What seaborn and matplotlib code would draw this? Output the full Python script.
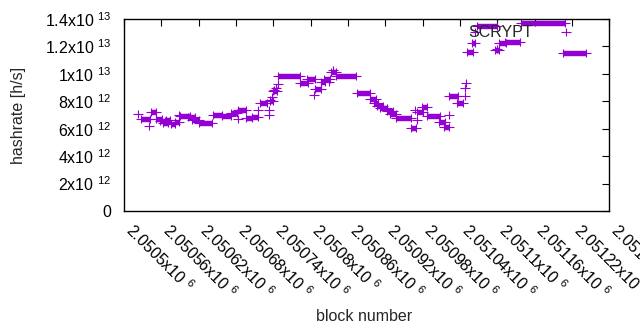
import matplotlib
matplotlib.use('Agg')
import matplotlib.pyplot as plt
from matplotlib.path import Path
from matplotlib.ticker import FixedLocator, FuncFormatter
import numpy as np
import pandas as pd
import seaborn as sns

# runs of blocks sharing the same hashrate (start block, end block, h/s)
run_start = [2050527, 2050543, 2050551, 2050558, 2050562, 2050567, 2050575, 2050582,
             2050590, 2050602, 2050609, 2050620, 2050643, 2050657, 2050672, 2050683,
             2050696, 2050706, 2050718, 2050734, 2050739, 2050747, 2050782, 2050794,
             2050807, 2050816, 2050821, 2050832, 2050840, 2050874, 2050895, 2050901,
             2050906, 2050911, 2050922, 2050927, 2050937, 2050961, 2050970, 2050979,
             2050987, 2051006, 2051014, 2051022, 2051035, 2051051, 2051059, 2051067,
             2051096, 2051103, 2051112, 2051138, 2051206]
run_end = [2050541, 2050551, 2050561, 2050566, 2050570, 2050574, 2050582, 2050588,
           2050606, 2050614, 2050620, 2050641, 2050657, 2050672, 2050681, 2050696,
           2050706, 2050715, 2050730, 2050739, 2050745, 2050782, 2050796, 2050807,
           2050816, 2050823, 2050831, 2050840, 2050872, 2050895, 2050905, 2050908,
           2050916, 2050922, 2050932, 2050937, 2050961, 2050969, 2050980, 2050987,
           2051008, 2051015, 2051022, 2051036, 2051045, 2051061, 2051064, 2051099,
           2051103, 2051114, 2051137, 2051208, 2051242]
run_rate = [6.69e12, 7.24e12, 6.72e12, 6.56e12, 6.42e12, 6.66e12, 6.31e12, 6.50e12,
            6.95e12, 6.82e12, 6.61e12, 6.39e12, 7.02e12, 6.93e12, 7.18e12, 7.40e12,
            6.76e12, 6.88e12, 7.85e12, 8.02e12, 8.75e12, 9.82e12, 9.31e12, 9.60e12,
            8.87e12, 9.43e12, 9.60e12, 10.16e12, 9.84e12, 8.58e12, 8.14e12, 7.85e12,
            7.66e12, 7.49e12, 7.29e12, 7.07e12, 6.76e12, 6.03e12, 7.24e12, 7.56e12,
            6.96e12, 6.51e12, 6.15e12, 8.36e12, 7.85e12, 11.62e12, 12.23e12, 13.47e12,
            11.76e12, 12.23e12, 12.35e12, 13.69e12, 11.50e12]

# single blocks
pt_block = [2050523, 2050540, 2050588, 2050683, 2050715, 2050732, 2050733, 2050734,
            2050737, 2050741, 2050744, 2050748, 2050805, 2050829, 2050836, 2050967,
            2050970, 2051022, 2051048, 2051048, 2051049, 2051064, 2051099]
pt_rate = [7.07e12, 6.20e12, 7.00e12, 6.69e12, 7.36e12, 7.36e12, 7.00e12, 8.10e12,
           8.30e12, 8.80e12, 9.00e12, 9.26e12, 8.46e12, 9.43e12, 10.28e12, 7.36e12,
           6.64e12, 7.00e12, 8.39e12, 8.95e12, 9.31e12, 13.07e12, 11.79e12]

x_ticks = [2050500, 2050560, 2050620, 2050680, 2050740, 2050800, 2050860,
           2050920, 2050980, 2051040, 2051100, 2051160, 2051220, 2051280]
y_ticks = [0, 2e12, 4e12, 6e12, 8e12, 1e13, 1.2e13, 1.4e13]

color = '#9400d3'

sns.set_style('white')
plt.rcParams['font.family'] = ['Liberation Sans', 'DejaVu Sans']
plt.rcParams['mathtext.fontset'] = 'custom'
plt.rcParams['mathtext.rm'] = 'Liberation Sans'
plt.rcParams['mathtext.it'] = 'Liberation Sans'
plt.rcParams['mathtext.default'] = 'regular'
plt.rcParams['font.size'] = 11.5


def sci(v, pos=None):
    if v == 0:
        return '0'
    e = int(np.floor(np.log10(abs(v)) + 1e-9))
    m = v / 10 ** e
    return f'{m:g}x10 $^{{{e}}}$'


marks = pd.DataFrame({
    'block': pt_block + run_start + run_end,
    'rate': pt_rate + run_rate + run_rate,
})

plus = Path([(-1, 0), (1, 0), (0, -0.78), (0, 0.78)],
            [Path.MOVETO, Path.LINETO, Path.MOVETO, Path.LINETO])

fig = plt.figure(figsize=(6.4, 3.3), dpi=100)
ax = fig.add_axes([0.194, 0.3606, 0.7583, 0.5818])

ax.hlines(run_rate, run_start, run_end, color=color, linewidth=3.9)
sns.scatterplot(data=marks, x='block', y='rate', marker=plus, s=42,
                color=color, edgecolor=color, linewidth=0.8, label='SCRYPT', ax=ax)

ax.set_xlim(2050500, 2051280)
ax.set_ylim(0, 1.4e13)
ax.xaxis.set_major_locator(FixedLocator(x_ticks))
ax.yaxis.set_major_locator(FixedLocator(y_ticks))
ax.xaxis.set_major_formatter(FuncFormatter(sci))
ax.yaxis.set_major_formatter(FuncFormatter(sci))
ax.tick_params(direction='in', length=5, width=0.8, top=True, right=True, colors='black')
ax.tick_params(axis='y', pad=9)
ax.tick_params(axis='x', pad=14.5)
for lab in ax.get_xticklabels():
    lab.set_rotation(-45)
    lab.set_ha('left')
    lab.set_va('baseline')
    lab.set_rotation_mode('anchor')
for sp in ax.spines.values():
    sp.set_color('black')
    sp.set_linewidth(1)

ax.set_xlabel('block number')
ax.set_ylabel('hashrate [h/s]')
ax.xaxis.set_label_coords(0.494, -0.547)
ax.xaxis.label.set_va('center')
ax.yaxis.set_label_coords(-0.218, 0.5)
ax.yaxis.label.set_va('center')

ax.legend(loc='center right', bbox_to_anchor=(0.96, 0.932), frameon=False,
          markerfirst=False, handlelength=3, handletextpad=0.55,
          borderpad=0, borderaxespad=0, fontsize=11.5)

fig.savefig('out.png', dpi=100)
